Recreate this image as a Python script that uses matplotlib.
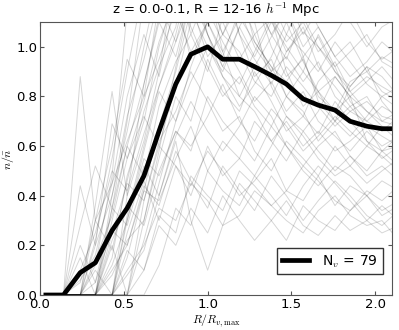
import numpy as np
import matplotlib
matplotlib.use('Agg')
import matplotlib.pyplot as plt

# --- DATA ---
# bin centres in units of R / R_v,max
r_bins = [0.035, 0.14, 0.24, 0.33, 0.43, 0.52, 0.62, 0.71, 0.81, 0.90, 1.00, 1.09,
          1.19, 1.28, 1.38, 1.47, 1.57, 1.66, 1.76, 1.85, 1.95, 2.04, 2.14]

# stacked (mean) profile
mean_profile = [0.0, 0.0, 0.09, 0.13, 0.26, 0.35, 0.48, 0.66, 0.85, 0.97, 1.00, 0.95,
                0.95, 0.92, 0.885, 0.85, 0.79, 0.765, 0.745, 0.70, 0.68, 0.67, 0.67]

# individual void profiles (a subset)
void_profiles = [
    [0, 0, 0.88, 0.30, 0.45, 0.62, 0.80, 0.95, 1.15, 1.25, 1.05, 0.92, 0.85, 0.98, 1.12, 0.90, 0.76, 0.82, 0.70, 0.64, 0.72, 0.80, 0.75],
    [0, 0, 0.44, 0.20, 0.69, 0.55, 0.78, 1.02, 1.20, 0.95, 1.10, 1.30, 1.05, 0.88, 0.95, 0.80, 0.90, 1.05, 0.92, 0.78, 0.70, 0.66, 0.72],
    [0, 0, 0, 0.36, 0.82, 0.40, 0.62, 0.90, 1.30, 1.18, 0.96, 1.05, 1.22, 1.10, 0.84, 0.72, 0.66, 0.74, 0.88, 0.80, 0.62, 0.58, 0.60],
    [0, 0, 0, 0, 0.30, 0.55, 0.72, 0.60, 0.85, 1.10, 1.25, 0.98, 0.80, 0.92, 1.04, 1.15, 0.96, 0.78, 0.70, 0.84, 0.92, 0.78, 0.70],
    [0, 0, 0.15, 0.0, 0.25, 0.45, 0.38, 0.62, 0.74, 0.90, 0.78, 0.66, 0.72, 0.58, 0.50, 0.62, 0.55, 0.48, 0.60, 0.52, 0.45, 0.50, 0.55],
    [0, 0, 0, 0, 0, 0.10, 0.20, 0.35, 0.30, 0.45, 0.38, 0.28, 0.32, 0.42, 0.36, 0.30, 0.25, 0.34, 0.40, 0.32, 0.28, 0.30, 0.22],
    [0, 0, 0, 0.20, 0.40, 0.72, 0.95, 1.20, 1.35, 1.15, 1.00, 0.90, 1.08, 1.20, 1.00, 0.88, 0.95, 0.80, 0.74, 0.86, 0.90, 0.82, 0.78],
    [0, 0, 0, 0, 0.12, 0.30, 0.55, 0.48, 0.66, 0.60, 0.72, 0.85, 0.70, 0.62, 0.75, 0.68, 0.58, 0.64, 0.72, 0.66, 0.60, 0.68, 0.62],
    [0, 0, 0, 0, 0, 0, 0.22, 0.45, 0.70, 0.92, 1.10, 1.25, 1.05, 0.95, 0.85, 0.98, 1.08, 0.92, 0.84, 0.76, 0.80, 0.70, 0.74],
    [0, 0, 0.28, 0.52, 0.35, 0.60, 0.85, 1.10, 0.96, 1.20, 1.15, 1.02, 0.90, 0.78, 0.86, 0.74, 0.82, 0.70, 0.64, 0.58, 0.66, 0.60, 0.64],
    [0, 0, 0, 0, 0.20, 0.0, 0.38, 0.60, 0.52, 0.44, 0.58, 0.50, 0.40, 0.46, 0.55, 0.42, 0.38, 0.48, 0.36, 0.44, 0.40, 0.34, 0.38],
    [0, 0, 0, 0.14, 0.32, 0.60, 0.48, 0.76, 0.94, 1.05, 0.90, 1.12, 1.25, 1.02, 0.92, 0.80, 0.72, 0.65, 0.78, 0.70, 0.62, 0.55, 0.60],
    [0, 0, 0, 0, 0, 0.25, 0.46, 0.30, 0.52, 0.40, 0.60, 0.48, 0.55, 0.70, 0.62, 0.54, 0.66, 0.58, 0.50, 0.56, 0.48, 0.52, 0.46],
    [0, 0, 0, 0, 0.40, 0.66, 1.00, 1.28, 1.15, 0.98, 1.10, 0.96, 1.15, 1.30, 1.18, 1.05, 0.98, 0.90, 1.02, 0.94, 0.85, 0.80, 0.84],
    [0, 0, 0, 0, 0, 0, 0, 0.12, 0.35, 0.28, 0.50, 0.62, 0.55, 0.48, 0.60, 0.72, 0.64, 0.55, 0.48, 0.52, 0.60, 0.56, 0.50],
    [0, 0, 0.10, 0.25, 0.50, 0.42, 0.65, 0.84, 1.02, 1.18, 1.32, 1.10, 0.95, 1.05, 0.90, 0.96, 0.86, 0.94, 0.80, 0.74, 0.78, 0.72, 0.70],
    [0, 0, 0, 0, 0, 0.18, 0.10, 0.28, 0.20, 0.35, 0.25, 0.40, 0.30, 0.22, 0.30, 0.38, 0.28, 0.24, 0.32, 0.26, 0.30, 0.25, 0.28],
    [0, 0, 0, 0.30, 0.18, 0.46, 0.74, 0.92, 1.08, 1.40, 1.22, 1.05, 0.98, 0.86, 0.80, 0.92, 0.84, 0.76, 0.68, 0.74, 0.70, 0.76, 0.72],
    [0, 0, 0, 0, 0.08, 0.22, 0.30, 0.55, 0.80, 0.70, 0.95, 0.82, 0.74, 0.90, 0.78, 0.66, 0.72, 0.86, 0.94, 0.82, 0.74, 0.70, 0.68],
    [0, 0, 0, 0, 0, 0, 0.10, 0.32, 0.25, 0.48, 0.40, 0.34, 0.50, 0.44, 0.36, 0.42, 0.52, 0.46, 0.38, 0.34, 0.42, 0.38, 0.44],
    [0, 0, 0.06, 0.16, 0.45, 0.80, 1.05, 0.88, 1.20, 1.32, 1.05, 0.92, 1.08, 0.96, 1.10, 1.00, 0.90, 0.82, 0.88, 0.80, 0.74, 0.68, 0.66],
    [0, 0, 0, 0, 0.22, 0.36, 0.28, 0.50, 0.66, 0.58, 0.80, 0.70, 0.62, 0.54, 0.68, 0.60, 0.50, 0.44, 0.52, 0.48, 0.40, 0.46, 0.42],
    [0, 0, 0, 0, 0, 0.15, 0.42, 0.68, 0.90, 1.15, 1.28, 1.40, 1.20, 1.05, 1.12, 0.98, 1.06, 1.00, 0.90, 0.84, 0.92, 0.88, 0.80],
    [0, 0, 0, 0.10, 0.0, 0.30, 0.58, 0.82, 0.70, 0.86, 1.00, 0.88, 0.80, 0.74, 0.62, 0.70, 0.60, 0.66, 0.58, 0.62, 0.68, 0.64, 0.60],
    [0, 0, 0, 0, 0, 0.08, 0.18, 0.40, 0.62, 0.30, 0.10, 0.28, 0.45, 0.38, 0.30, 0.22, 0.36, 0.30, 0.26, 0.34, 0.40, 0.32, 0.36],
    [0, 0, 0, 0.22, 0.55, 0.90, 1.25, 1.40, 1.30, 1.15, 1.35, 1.25, 1.10, 1.20, 1.05, 1.15, 1.00, 1.08, 0.96, 1.02, 0.90, 0.96, 0.92],
    [0, 0, 0, 0, 0.15, 0.48, 0.70, 1.00, 1.22, 1.08, 0.92, 0.80, 0.88, 0.76, 0.68, 0.80, 0.74, 0.62, 0.70, 0.76, 0.68, 0.58, 0.64],
    [0, 0, 0.20, 0.05, 0.35, 0.28, 0.52, 0.40, 0.64, 0.78, 0.66, 0.58, 0.68, 0.80, 0.72, 0.60, 0.52, 0.60, 0.66, 0.56, 0.50, 0.58, 0.52],
    [0, 0, 0, 0, 0, 0.32, 0.60, 0.84, 1.05, 1.30, 1.45, 1.20, 1.35, 1.18, 1.05, 0.95, 1.12, 1.00, 0.92, 0.98, 1.05, 0.94, 0.90],
    [0, 0, 0, 0.05, 0.26, 0.20, 0.44, 0.36, 0.58, 0.46, 0.35, 0.52, 0.42, 0.34, 0.48, 0.40, 0.30, 0.38, 0.46, 0.40, 0.32, 0.28, 0.34],
    [0, 0, 0, 0.12, 0.48, 1.15, 1.40, 1.30, 1.50, 1.20, 1.35, 1.45, 1.25, 1.10, 1.30, 1.20, 1.05, 1.15, 1.25, 1.10, 1.00, 1.08, 1.12],
    [0, 0, 0, 0, 0.35, 0.70, 1.20, 1.55, 1.35, 1.45, 1.20, 1.05, 1.18, 1.30, 1.12, 1.02, 1.10, 0.98, 1.05, 1.15, 1.02, 0.95, 1.00],
    [0, 0, 0, 0, 0, 0.40, 0.85, 1.12, 1.30, 1.05, 1.22, 1.38, 1.15, 1.00, 0.90, 1.05, 1.20, 1.08, 0.96, 0.88, 0.94, 1.02, 0.96],
    [0, 0, 0.05, 0.30, 0.60, 0.95, 0.80, 1.18, 1.02, 1.25, 1.10, 0.98, 1.12, 1.02, 0.92, 0.86, 0.96, 1.04, 0.90, 0.82, 0.88, 0.84, 0.80],
    [0, 0, 0, 0, 0.10, 0.20, 0.42, 0.38, 0.55, 0.68, 0.50, 0.42, 0.36, 0.48, 0.40, 0.32, 0.44, 0.52, 0.45, 0.38, 0.30, 0.36, 0.30],
    [0, 0, 0, 0, 0, 0, 0.30, 0.58, 0.92, 1.20, 1.05, 0.88, 0.76, 0.85, 0.96, 1.10, 0.94, 0.82, 0.74, 0.80, 0.86, 0.92, 0.84],
]

n_voids = 79

# --- PLOT ---
plt.rcParams['font.family'] = 'DejaVu Sans'
plt.rcParams['mathtext.fontset'] = 'cm'

fig = plt.figure(figsize=(3.99, 3.30), dpi=100)
ax = fig.add_axes([40 / 399, 35 / 330, 352 / 399, 273 / 330])

for prof in void_profiles:
    ax.plot(r_bins, prof, color='black', alpha=0.16, lw=0.7)

ax.plot(r_bins, mean_profile, color='black', lw=3.4,
        label=r'N$_v$ = %d' % n_voids)

ax.set_xlim(0, 2.1)
ax.set_ylim(0, 1.1)
ax.set_xticks([0.0, 0.5, 1.0, 1.5, 2.0])
ax.set_yticks([0.0, 0.2, 0.4, 0.6, 0.8, 1.0])
ax.tick_params(direction='in', top=True, right=True, labelsize=9.5,
               length=3, pad=2, color='#555555')
for sp in ax.spines.values():
    sp.set_edgecolor('#555555')

ax.set_title(r'z = 0.0-0.1, R = 12-16 $h^{-1}$ Mpc', fontsize=9.5, pad=6)
ax.set_xlabel(r'$R/R_{v,\mathrm{max}}$', fontsize=8.5, labelpad=1)
ax.set_ylabel(r'$n/\bar{n}$', fontsize=8.5, labelpad=0)

leg = ax.legend(loc='lower right', fontsize=10, fancybox=False,
                handlelength=2.0, borderpad=0.35, handletextpad=0.9,
                bbox_to_anchor=(0.993, 0.05))
leg.get_frame().set_edgecolor('#333333')
leg.get_frame().set_alpha(1)

fig.savefig('out.png', dpi=100)
